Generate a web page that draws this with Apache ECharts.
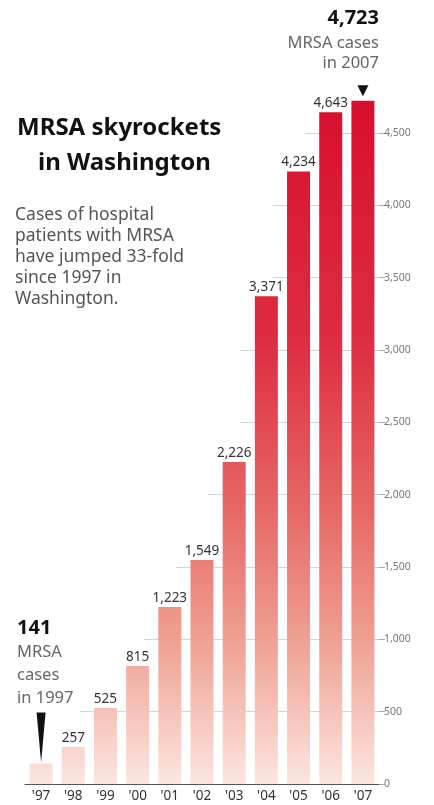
<!DOCTYPE html>
<html>
<head>
<meta charset="utf-8">
<script src="https://cdn.jsdelivr.net/npm/echarts@6/dist/echarts.min.js"></script>
<style>
html,body{margin:0;padding:0;background:#fff;}
#chart{width:434px;height:805px;}
</style>
</head>
<body>
<div id="chart"></div>
<script>
const categories = ["'97","'98","'99","'00","'01","'02","'03","'04","'05","'06","'07"];
const cases = [141, 257, 525, 815, 1223, 1549, 2226, 3371, 4234, 4643, 4723];
const yTicks = [0, 500, 1000, 1500, 2000, 2500, 3000, 3500, 4000, 4500];
const titleLines = ['MRSA skyrockets', 'in Washington'];
const subtitleLines = ['Cases of hospital', 'patients with MRSA', 'have jumped 33-fold', 'since 1997 in', 'Washington.'];
const noteEnd = ['4,723', 'MRSA cases', 'in 2007'];
const noteStart = ['141', 'MRSA', 'cases', 'in 1997'];

const FONT = "'Noto Sans', 'Open Sans', sans-serif";
const fmt = v => v.toLocaleString('en-US');

const chart = echarts.init(document.getElementById('chart'), null, {renderer: 'canvas'});

const barData = cases.map((v, i) => ({
  value: v,
  label: {show: i !== 0 && i !== cases.length - 1}
}));

// faint gridlines that start just before the first bar reaching each level
const n = categories.length;
const gridLines = yTicks.filter(v => v > 0).map(v => {
  const first = cases.findIndex(c => c >= v);
  return [{coord: [first - 0.8, v]}, {coord: [n - 0.5, v]}];
});

function txt(x, y, text, font, fill, align) {
  return {type: 'text', x: x, y: y, silent: true,
    style: {text: text, font: font, fill: fill, align: align || 'left', verticalAlign: 'middle',
      textAlign: align || 'left', textVerticalAlign: 'middle'}};
}

const graphics = [];
titleLines.forEach((t, i) => {
  graphics.push(txt(i === 0 ? 17 : 38, 128 + i * 35, t, `bold 24px ${FONT}`, '#111'));
});
subtitleLines.forEach((t, i) => {
  graphics.push(txt(15, 215 + i * 21, t, `17.5px ${FONT}`, '#555'));
});
noteEnd.forEach((t, i) => {
  graphics.push(txt(379, i === 0 ? 18 : 43 + (i - 1) * 20, t,
    i === 0 ? `bold 20px ${FONT}` : `16.5px ${FONT}`, i === 0 ? '#111' : '#666', 'right'));
});
noteStart.forEach((t, i) => {
  graphics.push(txt(17, i === 0 ? 628 : 652 + (i - 1) * 23, t,
    i === 0 ? `bold 20px ${FONT}` : `16.5px ${FONT}`, i === 0 ? '#111' : '#666'));
});

const option = {
  backgroundColor: '#fff',
  animation: false,
  grid: {left: 25, right: 55, top: 60.7, bottom: 21, containLabel: false},
  graphic: graphics,
  xAxis: [{
    type: 'category',
    data: categories,
    axisLine: {show: true, onZero: false, lineStyle: {color: '#555', width: 1}},
    axisTick: {show: false},
    axisLabel: {color: '#333', fontSize: 13.5, fontFamily: FONT, margin: 5}
  }, {
    type: 'value', show: false, min: -0.5, max: n - 0.5,
    axisLine: {onZero: false},
    splitLine: {show: false}
  }],
  yAxis: {
    type: 'value',
    position: 'right',
    min: 0,
    max: 5000,
    interval: 500,
    axisLine: {show: false, onZero: false},
    axisTick: {show: true, customValues: yTicks, length: 6, lineStyle: {color: '#aaa'}},
    axisLabel: {customValues: yTicks, color: '#777', fontSize: 10.5, fontFamily: FONT, margin: 5,
      formatter: v => fmt(v)},
    splitLine: {show: false}
  },
  series: [{
    type: 'bar',
    data: barData,
    barWidth: 23,
    z: 3,
    itemStyle: {
      color: {
        type: 'linear', x: 0, y: 101, x2: 0, y2: 784, global: true,
        colorStops: [
          {offset: 0, color: '#d70f2e'},
          {offset: 0.35, color: '#de2c42'},
          {offset: 0.6, color: '#e66866'},
          {offset: 0.8, color: '#f0a396'},
          {offset: 1, color: '#fbe6df'}
        ]
      }
    },
    label: {show: true, position: 'top', distance: 2, color: '#333', fontSize: 13.5, fontFamily: FONT,
      formatter: p => fmt(p.value)},
    markPoint: {
      silent: true,
      label: {show: false},
      data: [
        {coord: [categories[n - 1], cases[n - 1]], symbol: 'triangle', symbolRotate: 180,
          symbolSize: [11, 11], symbolOffset: [0, -10], itemStyle: {color: '#111'}},
        {coord: [categories[0], cases[0]], symbol: 'triangle', symbolRotate: 180,
          symbolSize: [9, 50], symbolOffset: [0, -26], itemStyle: {color: '#111'}}
      ]
    }
  }, {
    type: 'line',
    xAxisIndex: 1,
    yAxisIndex: 0,
    data: [[-1, -1]],
    symbol: 'none',
    lineStyle: {opacity: 0},
    z: 1,
    silent: true,
    markLine: {
      z: 1,
      silent: true,
      animation: false,
      symbol: ['none', 'none'],
      label: {show: false},
      lineStyle: {color: '#d4d4d4', width: 1, type: 'solid'},
      data: gridLines
    }
  }]
};
chart.setOption(option);
</script>
</body>
</html>
